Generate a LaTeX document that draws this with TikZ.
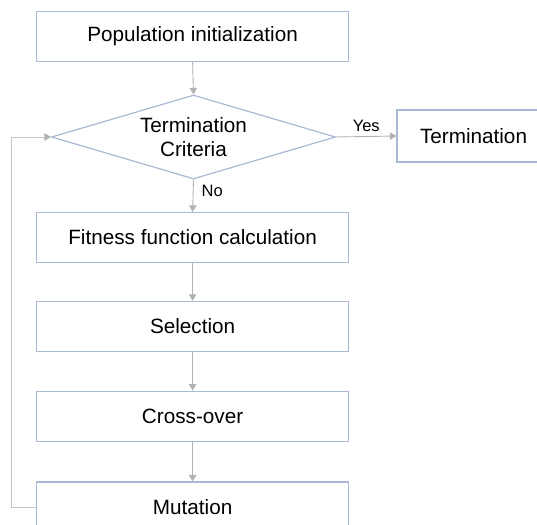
\documentclass[tikz,border=0pt]{standalone}
\usepackage{fontspec}
\setmainfont{Liberation Sans}
\usetikzlibrary{shapes.geometric,arrows.meta}
\definecolor{boxc}{HTML}{A9B9D3}
\definecolor{arrc}{HTML}{B2B2B2}
\definecolor{loopc}{HTML}{C6C6C6}
\tikzset{
  procbox/.style={draw=boxc, line width=1.2pt, fill=white, minimum width=312pt, minimum height=50pt, inner sep=0pt, font=\fontsize{20.7}{24}\selectfont},
  decbox/.style={draw=boxc, line width=1.2pt, fill=white, shape=diamond, shape aspect=3.38, minimum width=284pt, minimum height=84pt, inner sep=0pt, align=center, font=\fontsize{20.7}{24}\selectfont},
  flow/.style={draw=arrc, line width=0.9pt, -{Triangle[width=7.5pt,length=6.5pt]}},
  loopline/.style={draw=loopc, line width=1pt, -{Triangle[width=7.5pt,length=6.5pt,color=arrc]}},
  lbl/.style={font=\fontsize{16.5}{18}\selectfont, inner sep=0pt}
}
\begin{document}
\begin{tikzpicture}[x=1pt,y=-1pt]
\useasboundingbox (0,0) rectangle (537,524);
\node[procbox] (pop) at (192.6,36.3) {Population initialization};
\node[decbox] (dia) at (193.5,137) {Termination\\Criteria};
\node[procbox, minimum width=156pt, minimum height=52pt] (term) at (475,136) {\hspace*{-3pt}Termination};
\node[procbox] (fit) at (192.6,237.5) {Fitness function calculation};
\node[procbox] (sel) at (192.6,326.5) {Selection};
\node[procbox] (cross) at (192.6,416.2) {Cross-over};
\node[procbox] (mut) at (192.6,507) {Mutation};
\coordinate (lb) at (11,507);
\coordinate (lt) at (11,137);
\draw[flow] (pop.south) -- (dia.north);
\draw[flow] (dia.east) -- (term.west) node[lbl, midway, above=4pt] (yes) {Yes};
\draw[flow] (dia.south) -- (fit.north) node[lbl, pos=0.35, right=8pt] (no) {No};
\draw[flow] (fit.south) -- (sel.north);
\draw[flow] (sel.south) -- (cross.north);
\draw[flow] (cross.south) -- (mut.north);
\draw[loopline] (mut.west) -- (lb) -- (lt) -- (dia.west);
\end{tikzpicture}
\end{document}
